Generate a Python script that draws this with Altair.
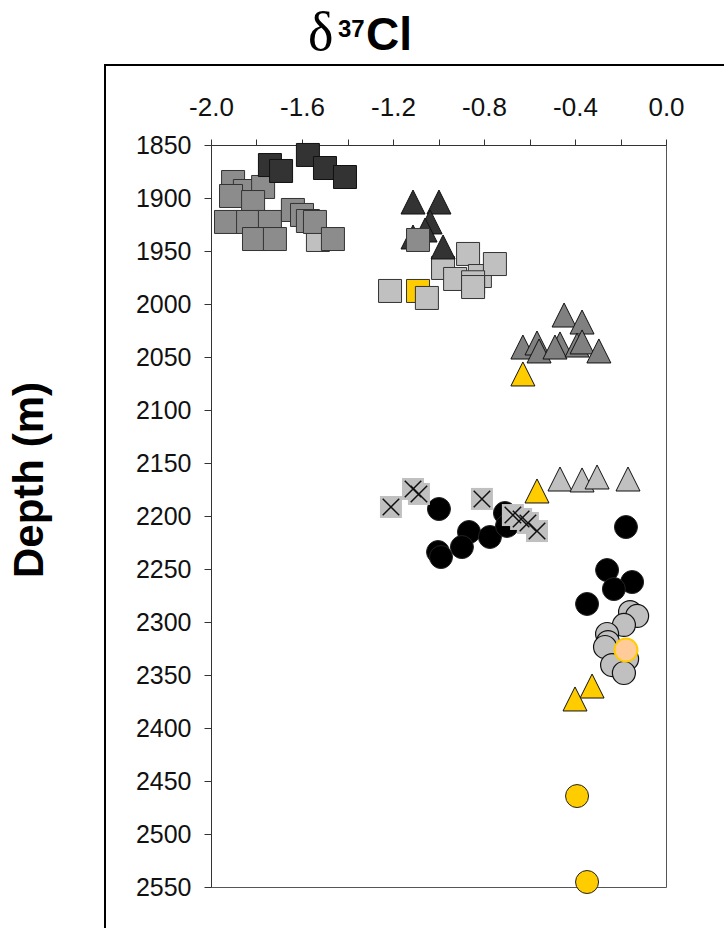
import altair as alt
import pandas as pd

# ---------------- data ----------------
dark_sq_x = [-1.741, -1.692, -1.574, -1.499, -1.411]
dark_sq_y = [1868.9, 1874.5, 1859.4, 1871.7, 1880.2]

med_sq_x = [-1.903, -1.851, -1.771, -1.912, -1.815, -1.934, -1.837, -1.741,
            -1.640, -1.600, -1.574, -1.543, -1.811, -1.719, -1.464, -1.090]
med_sq_y = [1884.9, 1893.4, 1889.6, 1898.1, 1903.8, 1922.6, 1922.6, 1922.6,
            1911.3, 1916.0, 1921.7, 1922.6, 1938.7, 1938.7, 1938.7, 1939.6]

light_sq_x = [-1.530, -1.213, -1.051, -0.980, -0.870, -0.927, -0.818, -0.752, -0.848, -0.848]
light_sq_y = [1939.6, 1987.7, 1994.3, 1966.0, 1952.8, 1976.4, 1973.6, 1962.3, 1979.5, 1984.0]

yellow_sq_x = [-1.090]
yellow_sq_y = [1987.7]

dark_tri_x = [-1.112, -0.998, -1.037, -1.059, -1.112, -0.980]
dark_tri_y = [1903.8, 1903.8, 1922.6, 1930.2, 1936.8, 1946.2]

med_tri_x = [-0.448, -0.369, -0.629, -0.567, -0.558, -0.466, -0.488, -0.391, -0.369, -0.295]
med_tri_y = [2010.4, 2017.0, 2040.6, 2036.8, 2044.3, 2037.7, 2040.6, 2038.7, 2035.8, 2044.3]

light_tri_x = [-0.466, -0.369, -0.303, -0.167]
light_tri_y = [2165.1, 2166.0, 2163.2, 2165.1]

yellow_tri_x = [-0.629, -0.567, -0.325, -0.400]
yellow_tri_y = [2066.0, 2176.4, 2360.4, 2372.6]

cross_x = [-1.209, -1.112, -1.086, -0.809, -0.673, -0.637, -0.607, -0.567]
cross_y = [2191.5, 2174.5, 2179.2, 2183.9, 2199.1, 2202.8, 2206.6, 2214.2]

black_ci_x = [-0.998, -0.866, -0.897, -0.774, -0.708, -0.699, -1.002, -0.989,
              -0.176, -0.259, -0.149, -0.229, -0.347]
black_ci_y = [2193.4, 2215.1, 2229.3, 2219.8, 2197.2, 2209.4, 2234.0, 2238.7,
              2210.4, 2251.0, 2262.3, 2268.9, 2283.0]

gray_ci_x = [-0.158, -0.127, -0.185, -0.259, -0.255, -0.268, -0.171, -0.237, -0.185]
gray_ci_y = [2290.6, 2294.3, 2302.8, 2311.3, 2318.9, 2323.6, 2334.9, 2340.6, 2348.1]

peach_ci_x = [-0.176]
peach_ci_y = [2326.4]

yellow_ci_x = [-0.391, -0.347]
yellow_ci_y = [2464.2, 2545.3]

x_ticks = [-2.0, -1.8, -1.6, -1.4, -1.2, -1.0, -0.8, -0.6, -0.4, -0.2, 0.0]
y_ticks = [1850, 1900, 1950, 2000, 2050, 2100, 2150, 2200, 2250, 2300,
           2350, 2400, 2450, 2500, 2550]

title_parts = ["δ", "37", "Cl"]
y_title = "Depth (m)"

# ---------------- layout ----------------
W, H = 455, 742
PAD = {"left": 211, "top": 145, "right": 58, "bottom": 41}
SANS = "Liberation Sans"

TRI = "M0,-1L1,1L-1,1Z"
XMARK = "M-0.75,-0.75L0.75,0.75M-0.75,0.75L0.75,-0.75"

X = alt.X(
    "x:Q",
    scale=alt.Scale(domain=[-2.0, 0.0], nice=False, zero=False),
    axis=alt.Axis(
        orient="top", values=x_ticks, title=None, grid=False,
        labelExpr="abs(round(datum.value*10)) % 4 == 0 ? (datum.value < -0.001 ? '-' : '') + format(abs(datum.value), '.1f') : ''",
        labelFont=SANS, labelFontSize=26, labelColor="#111", labelFontWeight="normal",
        labelBaseline="alphabetic", labelPadding=24, labelFlush=False,
        labelOverlap=False, tickSize=6, tickColor="#333", domainColor="#333",
    ),
)
Y = alt.Y(
    "y:Q",
    scale=alt.Scale(domain=[1850, 2550], reverse=True, nice=False, zero=False),
    axis=alt.Axis(
        values=y_ticks, format="d", title=None, grid=False,
        labelFont=SANS, labelFontSize=25, labelColor="#111", labelFontWeight="normal",
        labelPadding=13, labelFlush=False, labelOverlap=False,
        tickSize=7, tickColor="#333", domainColor="#333",
    ),
)


def pts(xs, ys, shape, size, fill, stroke, sw=1.0, filled=True):
    df = pd.DataFrame({"x": xs, "y": ys})
    kw = dict(shape=shape, size=size, stroke=stroke, strokeWidth=sw,
              opacity=1, strokeOpacity=1)
    if filled:
        kw.update(filled=True, fill=fill, fillOpacity=1)
    else:
        kw.update(filled=False, fill="transparent")
    return alt.Chart(df).mark_point(**kw).encode(x=X, y=Y)


one = pd.DataFrame({"a": [0]})


def deco_text(txt, x, y, size, font, weight="bold", angle=0, align="left"):
    kw = dict(text=txt, font=font, fontSize=size, fontWeight=weight,
              align=align, baseline="alphabetic", color="black")
    if angle:
        kw["angle"] = angle
    return alt.Chart(one).mark_text(**kw).encode(x=alt.value(x), y=alt.value(y))


layers = [
    pts(yellow_sq_x, yellow_sq_y, "square", 529, "#ffcc00", "#333"),
    pts(light_sq_x, light_sq_y, "square", 529, "#c0c0c0", "#333"),
    pts(dark_tri_x, dark_tri_y, TRI, 576, "#333333", "#111"),
    pts(med_sq_x, med_sq_y, "square", 529, "#8c8c8c", "#333"),
    pts(dark_sq_x, dark_sq_y, "square", 529, "#333333", "#111"),
    pts(med_tri_x, med_tri_y, TRI, 576, "#808080", "#111"),
    pts(light_tri_x, light_tri_y, TRI, 576, "#c0c0c0", "#111"),
    pts(yellow_tri_x, yellow_tri_y, TRI, 576, "#ffcc00", "#111"),
    pts(black_ci_x, black_ci_y, "circle", 529, "#000000", "#222"),
    pts(cross_x, cross_y, "square", 484, "#c0c0c0", "#c0c0c0", 0),
    pts(cross_x, cross_y, XMARK, 484, None, "#111", 1.5, filled=False),
    pts(gray_ci_x, gray_ci_y, "circle", 529, "#c0c0c0", "#111", 1.2),
    pts(peach_ci_x, peach_ci_y, "circle", 529, "#ffcc99", "#ffcc00", 2),
    pts(yellow_ci_x, yellow_ci_y, "circle", 529, "#ffcc00", "#222"),
    # outer frame (left and top lines)
    alt.Chart(one).mark_rule(color="black", strokeWidth=2).encode(
        x=alt.value(-106), y=alt.value(-80), y2=alt.value(H + PAD["bottom"])),
    alt.Chart(one).mark_rule(color="black", strokeWidth=2).encode(
        y=alt.value(-80), x=alt.value(-107), x2=alt.value(W + PAD["right"])),
    # title δ37Cl
    deco_text(title_parts[0], 97, -95, 54, "Liberation Serif", weight="normal"),
    deco_text(title_parts[1], 127, -108, 24, SANS),
    deco_text(title_parts[2], 155, -95, 46, SANS),
    # y title
    deco_text(y_title, -168, 335, 42, SANS, angle=270, align="center"),
]

chart = alt.layer(*layers).properties(
    width=W, height=H,
    autosize=alt.AutoSizeParams(type="none"),
    padding=PAD,
    background="white",
).configure_view(stroke="#555", strokeWidth=1)

chart.save("out.html", embed_options={"renderer": "svg", "actions": False})
